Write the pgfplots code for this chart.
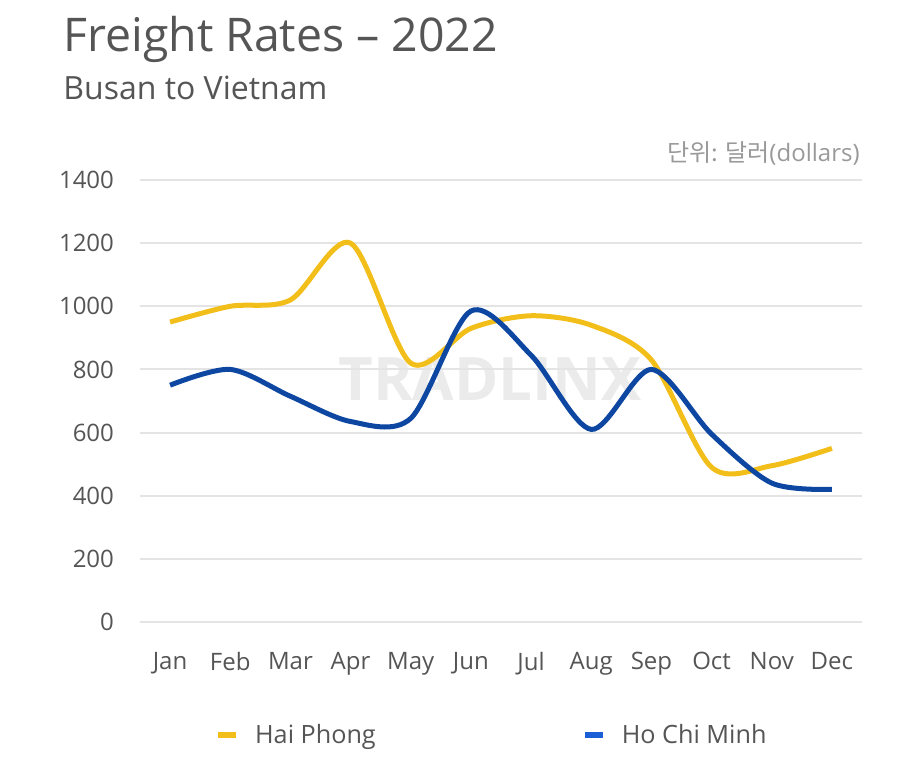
\documentclass[border=0pt]{standalone}
\usepackage{pgfplots}
\pgfplotsset{compat=1.18}
\usepackage{fontspec}
\setmainfont{Open Sans}
\newfontfamily\cjk{Noto Sans CJK KR}
\definecolor{hp}{HTML}{F2BE1A}
\definecolor{hcm}{HTML}{0D47A1}
\definecolor{hcmleg}{HTML}{1A5FD6}
\definecolor{txt}{HTML}{555555}
\definecolor{gridc}{HTML}{E4E4E4}
\begin{document}
\begin{tikzpicture}
\useasboundingbox (0pt,0pt) rectangle (450pt,382.5pt);
\node[anchor=base west, text=txt, font=\fontsize{23.2}{27}\selectfont, inner sep=0] at (31.5pt,356.5pt) {Freight Rates – 2022};
\node[anchor=base west, text=txt, font=\fontsize{16}{19}\selectfont, inner sep=0] at (31.5pt,332.5pt) {Busan to Vietnam};
\node[anchor=base east, text=black!40, font=\fontsize{12}{14}\selectfont, inner sep=0] at (430pt,301.5pt) {{\cjk 단위: 달러}(dollars)};
\node[text=black!8, font=\fontsize{30}{32}\selectfont\bfseries, inner sep=0] at (245pt,193pt) {TRADLINX};
\begin{axis}[
  at={(70pt,71.5pt)}, anchor=south west,
  scale only axis, width=361pt, height=221pt,
  xmin=-0.5, xmax=11.5, ymin=0, ymax=1400,
  xtick={0,...,11},
  xticklabels={Jan,Feb,Mar,Apr,May,Jun,Jul,Aug,Sep,Oct,Nov,Dec},
  ytick={0,200,...,1400},
  axis line style={draw=none},
  major tick length=0pt,
  ymajorgrids, xmajorgrids=false,
  major grid style={draw=gridc, line width=1pt},
  tick label style={text=txt, font=\fontsize{12}{14}\selectfont},
  /pgf/number format/assume math mode=true,
  /pgf/number format/1000 sep={},
  yticklabel style={xshift=-9.5pt},
  xticklabel style={yshift=-11.5pt},
  legend style={at={(0.497,-0.256)}, anchor=center, draw=none, fill=none,
    font=\fontsize{12.6}{15}\selectfont, text=txt,
    nodes={inner xsep=8pt},
    /tikz/every even column/.append style={column sep=95pt}},
  legend columns=2,
  legend cell align=left,
  legend image code/.code={\draw[#1, line width=3pt] (0pt,0pt) -- (9pt,0pt);},
]
\addplot[hp, line width=2.5pt, smooth, tension=0.5, forget plot] coordinates {
(0,950) (1,1000) (2,1020) (3,1200) (4,820) (5,930) (6,970) (7,940) (8,830) (9,490) (10,495) (11,550)};
\addplot[hcm, line width=2.5pt, smooth, tension=0.5, forget plot] coordinates {
(0,750) (1,800) (2,715) (3,635) (4,645) (5,985) (6,845) (7,610) (8,800) (9,595) (10,440) (11,420)};
\addlegendimage{hp}
\addlegendentry{Hai Phong}
\addlegendimage{hcmleg}
\addlegendentry{Ho Chi Minh}
\end{axis}
\end{tikzpicture}
\end{document}
